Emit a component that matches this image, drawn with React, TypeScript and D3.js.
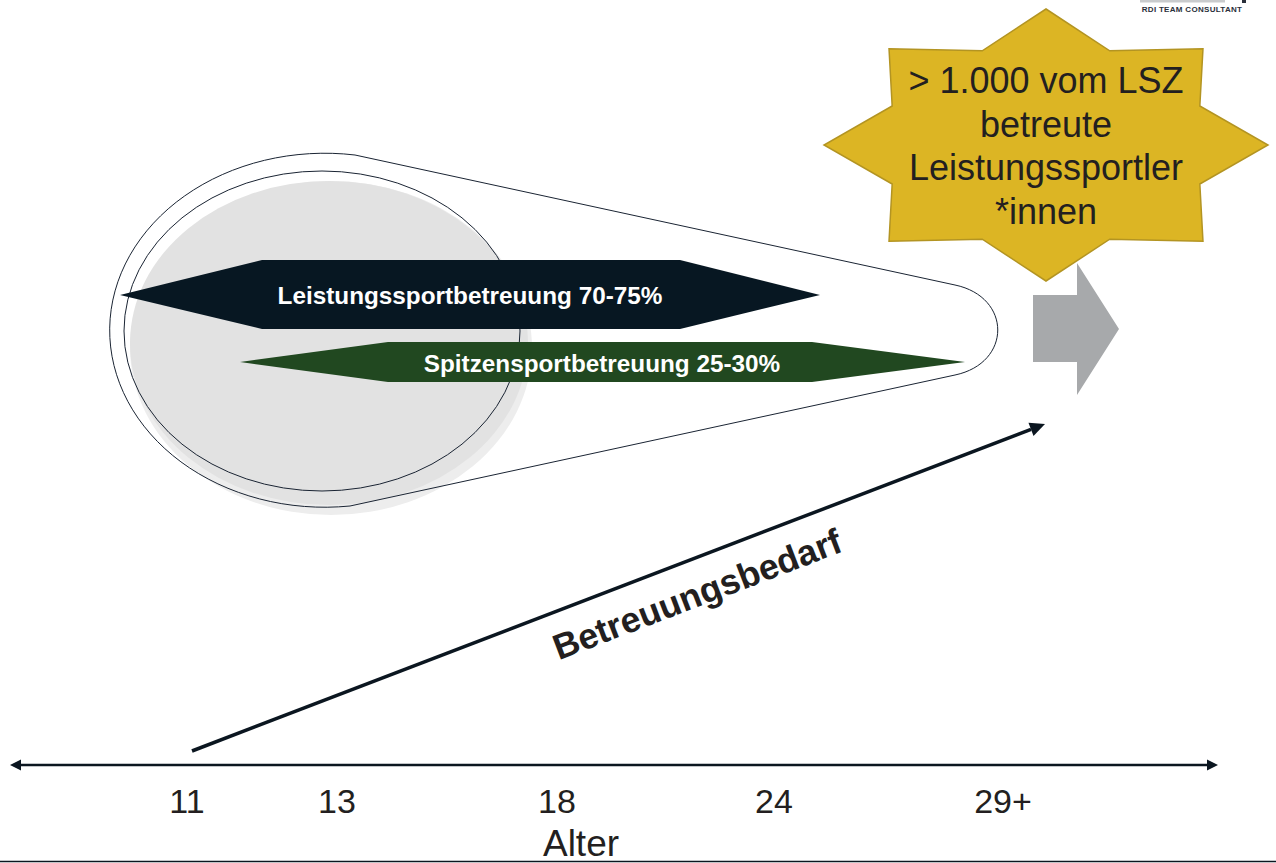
import React from "react";
import * as d3 from "d3";

// ---- data ----
const ageLabels = ["11", "13", "18", "24", "29+"];
const ageValues = [11, 13, 18, 24, 29];
const axisTitle = "Alter";
const trendLabel = "Betreuungsbedarf";
const shareLabels = ["Leistungssportbetreuung 70-75%", "Spitzensportbetreuung 25-30%"];
const shareColors = ["#071722", "#214820"];
const starLines = ["> 1.000 vom LSZ", "betreute", "Leistungssportler", "*innen"];
const logoText = "RDI TEAM CONSULTANT";

const W = 1276;
const H = 863;
const FONT = "'Liberation Sans', Arial, Helvetica, sans-serif";

export default function App() {
  const x = d3.scaleLinear().domain(ageValues).range([187, 337, 557, 774, 1003]);
  const axisY = 765;

  // star (8-point) on ellipse
  const sc = { cx: 1046, cy: 145, rx: 222, ry: 136, inner: 0.75 };
  const starPts: [number, number][] = [];
  for (let i = 0; i < 16; i++) {
    const a = -Math.PI / 2 + (i * Math.PI) / 8;
    const r = i % 2 === 0 ? 1 : sc.inner;
    starPts.push([sc.cx + Math.cos(a) * sc.rx * r, sc.cy + Math.sin(a) * sc.ry * r]);
  }
  const starPath = d3.line()(starPts) + "Z";

  // callout shape
  const callout = "M355,155 L955,285 C1012,297 1012,363 955,375 L350,506 A215 177 0 1 1 355,155 Z";

  const poly = (pts: [number, number][]) => d3.line()(pts) + "Z";
  const darkArrow = poly([
    [120, 295], [262, 260], [680, 260], [820, 295], [680, 329], [262, 329],
  ]);
  const greenArrow = poly([
    [240, 362], [388, 342], [812, 342], [965, 362], [812, 382], [388, 382],
  ]);
  const grayArrow = poly([
    [1033, 295], [1077, 295], [1077, 263], [1119, 329], [1077, 395], [1077, 362], [1033, 362],
  ]);

  // diagonal arrow
  const d0: [number, number] = [192, 751];
  const d1: [number, number] = [1045, 424];
  const ang = Math.atan2(d1[1] - d0[1], d1[0] - d0[0]);
  const headLen = 15, headW = 7;
  const bx = d1[0] - Math.cos(ang) * headLen, by = d1[1] - Math.sin(ang) * headLen;
  const head = poly([
    d1,
    [bx + Math.sin(ang) * headW, by - Math.cos(ang) * headW],
    [bx - Math.sin(ang) * headW, by + Math.cos(ang) * headW],
  ]);
  const angDeg = (ang * 180) / Math.PI;

  return (
    <svg
      width={W}
      height={H}
      viewBox={`0 0 ${W} ${H}`}
      style={{ position: "absolute", left: 0, top: 0, background: "#fff", fontFamily: FONT }}
    >
      <rect x={0} y={0} width={W} height={H} fill="#fff" />

      {/* logo fragment */}
      <rect x={1140} y={0} width={85} height={2.5} fill="#c9cbcd" />
      <rect x={1242} y={0} width={4} height={3} fill="#2a2f3a" />
      <text x={1192} y={12} fontSize={8} fontWeight="bold" textAnchor="middle" fill="#2a2f3a" letterSpacing={0.3}>
        {logoText}
      </text>

      {/* callout with ellipses */}
      <path d={callout} fill="#fff" stroke="none" />
      <ellipse cx={331} cy={348} rx={201} ry={167} fill="#ededed" />
      <ellipse cx={329} cy={343} rx={199} ry={162} fill="#e2e2e2" />
      <path d={callout} fill="none" stroke="#1a2433" strokeWidth={1} />
      <ellipse cx={322} cy={331} rx={198} ry={160} fill="none" stroke="#1a2433" strokeWidth={1} />

      {/* share arrows */}
      <path d={darkArrow} fill={shareColors[0]} />
      <text x={470} y={304} fontSize={24.3} fontWeight="bold" fill="#fff" textAnchor="middle">
        {shareLabels[0]}
      </text>
      <path d={greenArrow} fill={shareColors[1]} />
      <text x={602} y={372} fontSize={24.3} fontWeight="bold" fill="#fff" textAnchor="middle">
        {shareLabels[1]}
      </text>

      {/* gray arrow */}
      <path d={grayArrow} fill="#a7a9ab" />

      {/* star */}
      <path d={starPath} fill="#dcb524" stroke="#b39422" strokeWidth={1.5} />
      {starLines.map((s, i) => (
        <text key={s} x={sc.cx} y={93 + i * 43.5} fontSize={36} fill="#231f20" textAnchor="middle">
          {s}
        </text>
      ))}

      {/* diagonal trend arrow */}
      <line x1={d0[0]} y1={d0[1]} x2={bx} y2={by} stroke="#0b1620" strokeWidth={3.5} />
      <path d={head} fill="#0b1620" />
      <text
        transform={`translate(697,594) rotate(${angDeg})`}
        dy="0.35em"
        fontSize={35.5}
        fontWeight="bold"
        fill="#231f20"
        textAnchor="middle"
      >
        {trendLabel}
      </text>

      {/* horizontal axis */}
      <line x1={19} y1={axisY} x2={1209} y2={axisY} stroke="#0b1620" strokeWidth={2.5} />
      <path d={poly([[10, axisY], [21, axisY - 5.5], [21, axisY + 5.5]])} fill="#0b1620" />
      <path d={poly([[1218, axisY], [1207, axisY - 5.5], [1207, axisY + 5.5]])} fill="#0b1620" />
      {ageValues.map((v, i) => (
        <text key={v} x={x(v)} y={813} fontSize={34} fill="#231f20" textAnchor="middle">
          {ageLabels[i]}
        </text>
      ))}
      <text x={581} y={856} fontSize={37} fill="#231f20" textAnchor="middle">
        {axisTitle}
      </text>

      {/* bottom rule */}
      <line x1={0} y1={861.5} x2={W} y2={861.5} stroke="#0b1620" strokeWidth={1.5} />
    </svg>
  );
}
